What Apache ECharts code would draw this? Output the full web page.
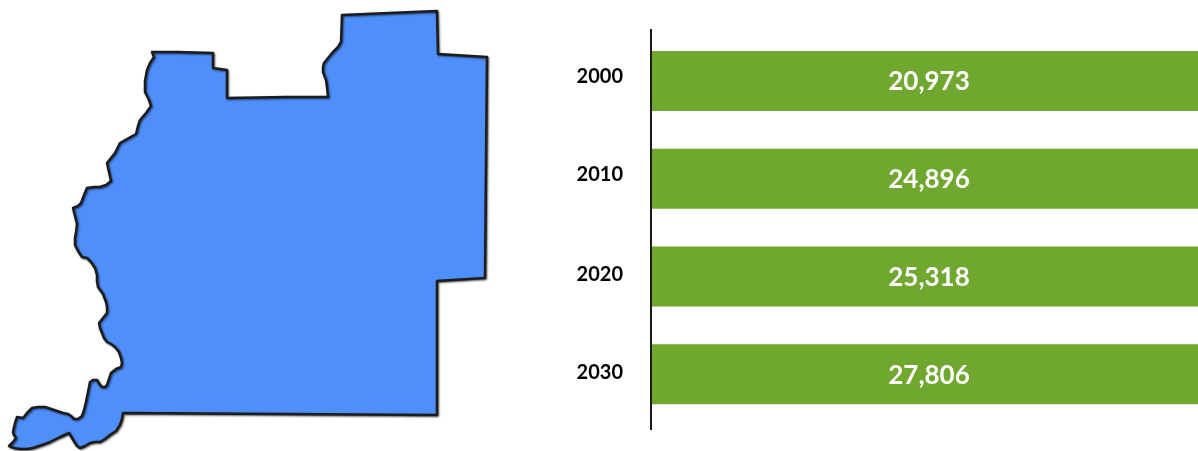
<!DOCTYPE html>
<html>
<head>
<meta charset="utf-8">
<style>html,body{margin:0;padding:0;background:#fff}#c{width:1198px;height:451px}</style>
<script src="https://cdn.jsdelivr.net/npm/echarts@6/dist/echarts.min.js"></script>
</head>
<body>
<div id="c"></div>
<script>
const years = ['2000', '2010', '2020', '2030'];
const population = [20973, 24896, 25318, 27806];
const countyOutline = [
  [152,52],[177,52],[213,53],[213,68],[227,70],[227,98],[287,97],[328,97],[327,87],[326,80],[323,72],[323,67],[324,63],[328,58],[333,52],[338,47],[341,42],[342,15],[437,11],[438,54],[487,57],[485,278],[437,281],[437,415],
  [123,413],[122,419],[120,425],[116,431],[110,435],[105,439],[100,442],[95,442],[90,443],[85,446],[80,448],[77,446],[75,443],[72,438],[69,433],[60,437],[50,442],[42,445],[33,448],[27,449],[20,449],[14,448],[9,446],[13,442],[16,438],[14,435],[13,432],[14,427],[15,423],[17,417],[23,418],[27,413],[32,408],[38,407],[45,407],[51,409],[57,411],[63,413],[68,414],[71,416],[74,419],[78,419],[82,416],[84,410],[86,402],[88,392],[90,382],[93,380],[97,380],[100,385],[102,387],[105,387],[107,385],[109,379],[111,373],[116,369],[121,367],[122,363],[121,358],[119,352],[115,347],[111,344],[107,342],[104,338],[102,333],[100,328],[99,323],[103,318],[107,313],[107,307],[106,302],[103,294],[98,287],[97,281],[97,275],[95,268],[91,262],[87,258],[82,257],[78,251],[75,245],[75,238],[76,232],[77,224],
  [75,216],[73,208],[78,206],[81,203],[84,195],[87,188],[94,187],[100,187],[106,185],[111,181],[109,172],[107,163],[111,158],[115,153],[118,147],[120,143],[127,139],[136,134],[138,126],[140,120],[146,113],[151,106],[149,100],[145,92],[145,81],[147,70],[150,63],[154,57],[152,52]
];
echarts.registerMap('county', {
  type: 'FeatureCollection',
  features: [{type: 'Feature', properties: {name: 'County'}, geometry: {type: 'Polygon', coordinates: [countyOutline]}}]
});
const yearText = {color: '#000', fontFamily: 'Lato', fontWeight: 'bold', fontSize: 20};
const chart = echarts.init(document.getElementById('c'), null, {renderer: 'canvas'});
chart.setOption({
  animation: false,
  backgroundColor: '#fff',
  grid: {left: 651, width: 556, top: 32, height: 391, outerBoundsMode: 'none', containLabel: false},
  xAxis: {type: 'value', min: 0, max: 20000, show: false},
  yAxis: {
    type: 'category', inverse: true, data: years,
    axisLine: {show: false}, axisTick: {show: false},
    axisLabel: {
      margin: 28,
      formatter: (v, i) => (i < 2 ? '{high|' : '{low|') + v + '}',
      rich: {
        high: {...yearText, padding: [0, 0, 8, 0]},
        low: {...yearText, padding: [0, 0, 4, 0]}
      }
    }
  },
  graphic: [{type: 'rect', silent: true, shape: {x: 650, y: 29, width: 2, height: 401}, style: {fill: '#1a1a1a'}, z: 10}],
  series: [
    {
      type: 'bar', data: population, barWidth: 60, clip: true,
      itemStyle: {color: '#6fa72f'},
      label: {show: true, position: 'inside', color: '#fff', fontFamily: 'Lato', fontWeight: 'bold', fontSize: 26, offset: [0, 1], formatter: p => p.value.toLocaleString('en-US')}
    },
    {
      type: 'map', map: 'county', silent: true, left: 9, top: 11, width: 478, height: 438,
      projection: {project: p => [p[0], p[1]], unproject: p => [p[0], p[1]]},
      data: [{name: 'County', value: 1}],
      label: {show: false},
      itemStyle: {areaColor: '#4f8ffc', borderColor: '#1c1c1c', borderWidth: 2.5, borderJoin: 'round', shadowColor: 'rgba(0,0,0,0.55)', shadowBlur: 2, shadowOffsetX: 1, shadowOffsetY: 1},
      emphasis: {disabled: true}
    }
  ]
});
</script>
</body>
</html>
